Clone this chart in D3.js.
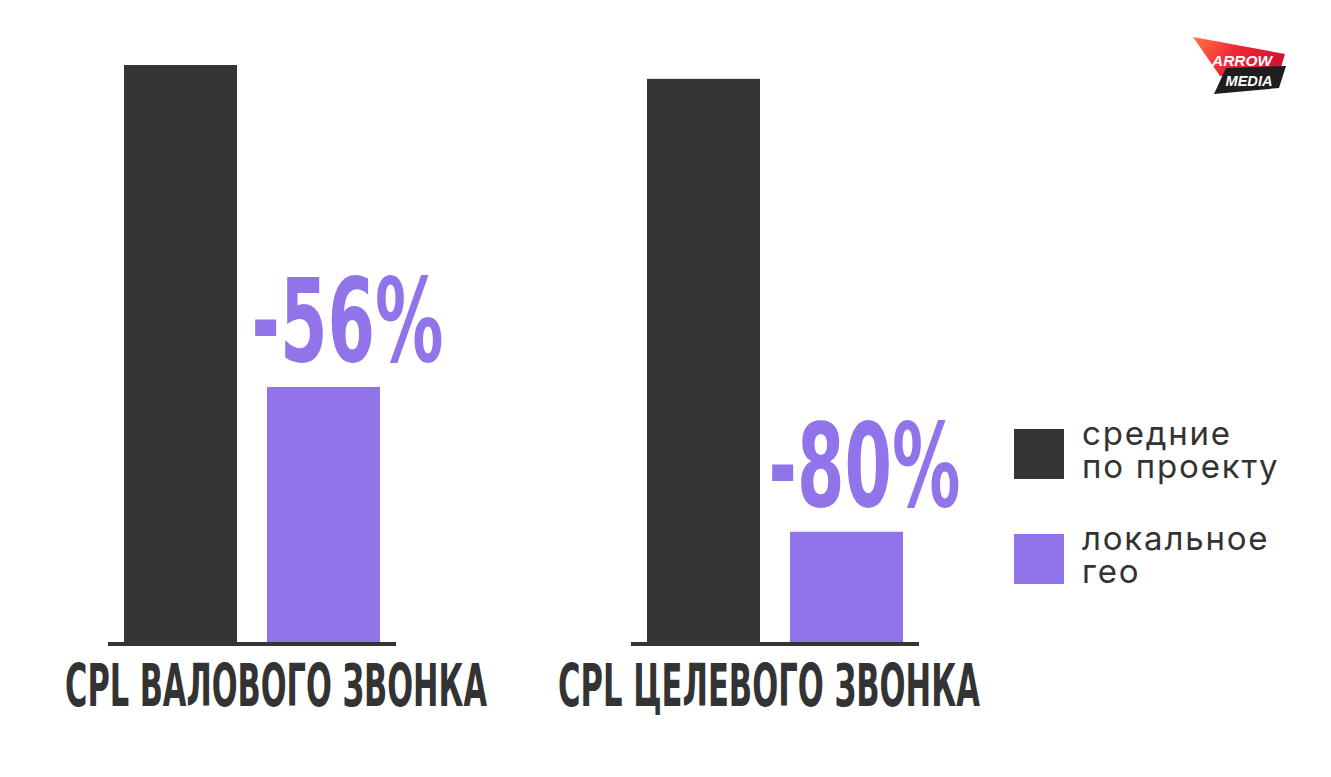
<!DOCTYPE html>
<html>
<head>
<meta charset="utf-8">
<script src="https://cdn.jsdelivr.net/npm/d3@7/dist/d3.min.js"></script>
<style>
  html, body { margin: 0; padding: 0; background: #ffffff; }
  svg { display: block; }
</style>
</head>
<body>
<div id="chart"></div>
<script>
// ---- data ----
const categories = ["CPL ВАЛОВОГО ЗВОНКА", "CPL ЦЕЛЕВОГО ЗВОНКА"];
const seriesNames = ["средние по проекту", "локальное гео"];
const legendLines = [["средние", "по проекту"], ["локальное", "гео"]];
const avgValues = [100, 97.6];
const localValues = [44.2, 19.1];
const deltaLabels = ["-56%", "-80%"];

// ---- setup ----
const W = 1331, H = 777;
const dark = "#353535", purple = "#9173EA", textColor = "#333333";
const condensed = "'Liberation Sans Narrow', 'DejaVu Sans Condensed', 'Arial Narrow', sans-serif";

const svg = d3.select("#chart").append("svg").attr("width", W).attr("height", H);

const baseY = 642;
const y = d3.scaleLinear().domain([0, 100]).range([baseY, 65]);

const x0 = d3.scaleBand().domain(categories).range([108, 919]).paddingInner(0.4493).paddingOuter(0);
const x1 = d3.scaleBand().domain(seriesNames).range([16, 272]).paddingInner(0.2098).paddingOuter(0);
const xLabel = d3.scalePoint().domain(categories).range([276, 769]);
const color = d3.scaleOrdinal().domain(seriesNames).range([dark, purple]);

// squeeze a centred text horizontally to a given width
function fitWidth(sel, cx, cy, width) {
  sel.each(function(d, i) {
    const t = d3.select(this);
    const len = this.getComputedTextLength();
    const k = width / len;
    const x = typeof cx === "function" ? cx(d, i) : cx;
    const yy = typeof cy === "function" ? cy(d, i) : cy;
    t.attr("x", 0).attr("y", 0)
     .attr("transform", `translate(${x},${yy}) scale(${k},1)`);
  });
}

const rows = categories.map((c, i) => ({
  cat: c,
  vals: [
    { s: seriesNames[0], v: avgValues[i] },
    { s: seriesNames[1], v: localValues[i] }
  ],
  label: deltaLabels[i],
  local: localValues[i]
}));

const groups = svg.selectAll("g.grp").data(rows).join("g")
  .attr("class", "grp")
  .attr("transform", d => `translate(${x0(d.cat)},0)`);

groups.selectAll("rect.bar").data(d => d.vals).join("rect")
  .attr("class", "bar")
  .attr("x", d => x1(d.s))
  .attr("y", d => y(d.v))
  .attr("width", x1.bandwidth())
  .attr("height", d => baseY - y(d.v))
  .attr("fill", d => color(d.s));

// baseline (axis line)
groups.append("rect")
  .attr("x", 0).attr("y", baseY)
  .attr("width", x0.bandwidth()).attr("height", 4)
  .attr("fill", dark);

// delta labels
const deltas = groups.append("text")
  .attr("text-anchor", "middle")
  .attr("font-family", condensed)
  .attr("font-weight", "bold")
  .attr("font-size", 116)
  .attr("fill", purple)
  .text(d => d.label);
fitWidth(deltas,
  (d, i) => x1(seriesNames[1]) + x1.bandwidth() / 2 + (i === 0 ? 24 : 18),
  d => y(d.local) - 26, 192);

// category labels
const cats = svg.selectAll("text.cat").data(categories).join("text")
  .attr("class", "cat")
  .attr("text-anchor", "middle")
  .attr("font-family", condensed)
  .attr("font-weight", "bold")
  .attr("font-size", 58)
  .attr("fill", textColor)
  .text(d => d);
fitWidth(cats, d => xLabel(d), 706, 422);

// legend
const legend = svg.append("g").attr("transform", "translate(1014,429)");
const li = legend.selectAll("g").data(seriesNames).join("g")
  .attr("transform", (d, i) => `translate(0,${i * 105})`);
li.append("rect").attr("width", 50).attr("height", 50).attr("fill", d => color(d));
li.each(function(d, i) {
  d3.select(this).selectAll("text").data(legendLines[i]).join("text")
    .attr("x", 68)
    .attr("y", (t, j) => 16 + j * 33)
    .attr("font-family", "Inter, Roboto, sans-serif")
    .attr("font-size", 33)
    .attr("letter-spacing", 1.8)
    .attr("fill", textColor)
    .text(t => t);
});

// logo
const logo = svg.append("g");
const defs = svg.append("defs");
const grad = defs.append("linearGradient").attr("id", "lg").attr("x1", "0").attr("y1", "0").attr("x2", "1").attr("y2", "0.3");
grad.append("stop").attr("offset", "0").attr("stop-color", "#ff7a3c");
grad.append("stop").attr("offset", "0.5").attr("stop-color", "#f0283a");
grad.append("stop").attr("offset", "1").attr("stop-color", "#d9122f");
logo.append("path")
  .attr("d", "M1193,37 L1285,54 L1279,74 L1220,76 Z")
  .attr("fill", "url(#lg)");
logo.append("path")
  .attr("d", "M1226,68 L1286,66 L1279,88 L1214,94 Z")
  .attr("fill", "#1e1e1e");
logo.append("text")
  .attr("x", 1242).attr("y", 66)
  .attr("text-anchor", "middle")
  .attr("font-family", "'Liberation Sans', Arial, sans-serif")
  .attr("font-weight", "bold").attr("font-style", "italic")
  .attr("font-size", 15).attr("fill", "#ffffff")
  .attr("textLength", 60).attr("lengthAdjust", "spacingAndGlyphs")
  .text("ARROW");
logo.append("text")
  .attr("x", 1249).attr("y", 86)
  .attr("text-anchor", "middle")
  .attr("font-family", "'Liberation Sans', Arial, sans-serif")
  .attr("font-weight", "bold").attr("font-style", "italic")
  .attr("font-size", 15).attr("fill", "#ffffff")
  .attr("textLength", 47).attr("lengthAdjust", "spacingAndGlyphs")
  .text("MEDIA");
</script>
</body>
</html>
